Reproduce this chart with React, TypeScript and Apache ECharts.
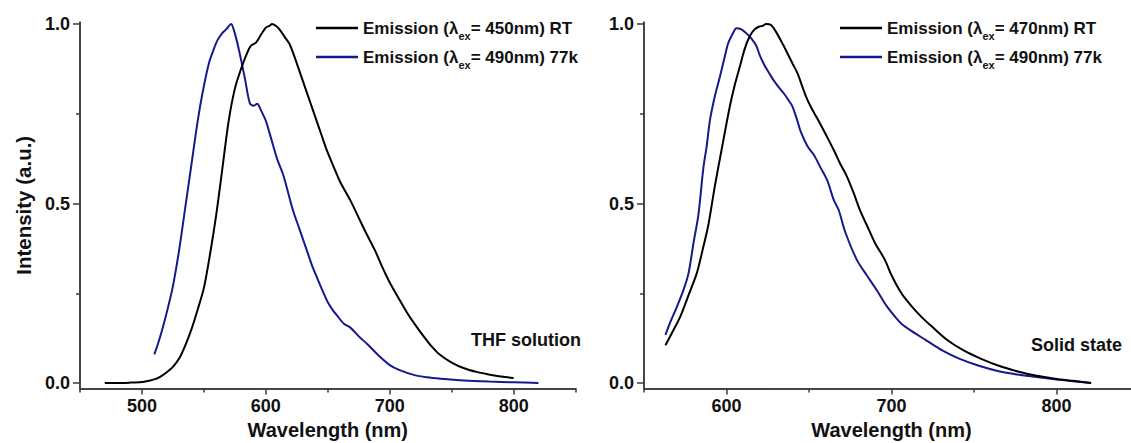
import React, { useEffect, useRef } from "react";
import * as echarts from "echarts";

// ---------- data ----------
const leftRtWl = [470, 480, 490, 500, 505, 510, 515, 520, 525, 530, 535, 540, 545, 550, 555, 560, 565, 570, 575, 580, 585, 588, 592, 596, 600, 603, 605, 608, 611, 615, 619, 623, 627, 632, 636, 640, 645, 649, 655, 660, 668, 675, 681, 688, 694, 700, 708, 715, 722, 728, 733, 740, 750, 760, 770, 780, 790, 800];
const leftRtI = [0.0, 0.0, 0.001, 0.003, 0.006, 0.01, 0.018, 0.03, 0.045, 0.068, 0.105, 0.15, 0.205, 0.265, 0.36, 0.47, 0.6, 0.73, 0.82, 0.875, 0.92, 0.94, 0.948, 0.97, 0.99, 0.995, 1.0, 0.995, 0.985, 0.965, 0.945, 0.91, 0.87, 0.82, 0.78, 0.74, 0.69, 0.65, 0.6, 0.56, 0.51, 0.46, 0.417, 0.37, 0.323, 0.28, 0.231, 0.19, 0.155, 0.127, 0.105, 0.08, 0.057, 0.041, 0.031, 0.024, 0.018, 0.014];

const left77Wl = [510, 513, 517, 521, 525, 530, 535, 540, 545, 549, 554, 558, 561, 565, 568, 572, 574, 577, 580, 583, 587, 590, 593, 596, 600, 603, 606, 609, 614, 618, 622, 627, 633, 637, 641, 646, 650, 654, 657, 663, 668, 675, 682, 690, 700, 708, 720, 730, 741, 760, 780, 800, 820];
const left77I = [0.08, 0.11, 0.157, 0.21, 0.27, 0.37, 0.49, 0.61, 0.73, 0.81, 0.89, 0.93, 0.955, 0.975, 0.985, 1.0, 0.985, 0.947, 0.9, 0.85, 0.78, 0.772, 0.778, 0.76, 0.73, 0.696, 0.66, 0.625, 0.58, 0.53, 0.48, 0.43, 0.37, 0.33, 0.296, 0.255, 0.225, 0.203, 0.19, 0.165, 0.155, 0.13, 0.108, 0.08, 0.05, 0.036, 0.022, 0.016, 0.012, 0.007, 0.004, 0.002, 0.0];

const rightRtWl = [563, 567, 572, 577, 582, 586, 589, 593, 597, 602, 605, 608, 611, 614, 617, 620, 622, 624, 627, 630, 634, 637, 640, 643, 646, 648, 651, 654, 657, 661, 665, 669, 673, 677, 681, 686, 690, 696, 700, 706, 712, 718, 725, 734, 744, 754, 765, 776, 788, 799, 810, 821];
const rightRtI = [0.105, 0.14, 0.185, 0.245, 0.306, 0.38, 0.44, 0.55, 0.649, 0.77, 0.83, 0.88, 0.93, 0.965, 0.985, 0.993, 0.995, 1.0, 0.997, 0.978, 0.945, 0.918, 0.89, 0.863, 0.825, 0.8, 0.77, 0.745, 0.72, 0.685, 0.649, 0.61, 0.575, 0.53, 0.48, 0.43, 0.39, 0.343, 0.3, 0.25, 0.215, 0.185, 0.155, 0.119, 0.09, 0.068, 0.048, 0.033, 0.02, 0.012, 0.006, 0.0];

const right77Wl = [563, 566, 570, 574, 577, 580, 583, 586, 588, 590, 593, 596, 599, 601, 604, 606, 609, 612, 615, 618, 620, 623, 626, 629, 632, 635, 638, 640, 643, 645, 649, 653, 657, 661, 665, 668, 672, 679, 685, 691, 697, 703, 706, 712, 721, 731, 741, 753, 765, 776, 788, 800, 810, 821];
const right77I = [0.134, 0.17, 0.213, 0.26, 0.306, 0.39, 0.47, 0.6, 0.66, 0.733, 0.8, 0.853, 0.91, 0.946, 0.975, 0.988, 0.985, 0.974, 0.96, 0.94, 0.915, 0.885, 0.862, 0.84, 0.822, 0.805, 0.785, 0.77, 0.73, 0.7, 0.66, 0.635, 0.6, 0.565, 0.51, 0.482, 0.42, 0.343, 0.3, 0.259, 0.215, 0.18, 0.165, 0.145, 0.119, 0.09, 0.068, 0.048, 0.033, 0.024, 0.017, 0.01, 0.005, 0.0];

const nameLeftRt = "Emission (λex= 450nm) RT";
const nameRightRt = "Emission (λex= 470nm) RT";
const name77 = "Emission (λex= 490nm) 77k";

const yLabelTicks = [0, 0.5, 1.0];
const yMinorTicks = [0.25, 0.75];
const leftXLabels = [500, 600, 700, 800];
const leftXMinor = [450, 550, 650, 750, 850];
const rightXLabels = [600, 700, 800];
const rightXMinor = [550, 650, 750, 850];

const panelNotes = ["THF solution", "Solid state"];

// ---------- style ----------
const FONT = "'Liberation Sans', Arial, sans-serif";
const AX = "#3a3a3a";
const BLUE = "#16198c";
const BLACK = "#000000";
const Y_MIN = -0.015;
const Y_MAX = 1.005;

const zip = (a: number[], b: number[]) => a.map((v, i) => [v, b[i]]);

const legendFormatter = (n: string) => {
  const idx = n.indexOf("λex");
  const pre = n.slice(0, idx);
  const post = n.slice(idx + 3);
  return `{a|${pre}λ}{s|ex}{a|${post}}`;
};

const legendRich = {
  a: { fontSize: 17, fontWeight: "bold", fontFamily: FONT, color: "#111", lineHeight: 20 },
  s: { fontSize: 11, fontWeight: "bold", fontFamily: FONT, color: "#111", lineHeight: 20, padding: [16, 0, 0, 0] },
};

const TICK_STYLE = { color: AX, width: 1.5 };

function mainXAxis(gridIndex: number, min: number, max: number, labels: number[]) {
  return {
    type: "value",
    gridIndex,
    position: "bottom",
    min,
    max,
    axisLine: { show: true, onZero: false, lineStyle: { color: AX, width: 1.5 } },
    axisTick: { show: true, customValues: labels, length: 6, lineStyle: TICK_STYLE },
    axisLabel: {
      show: true,
      customValues: labels,
      margin: 9,
      fontSize: 18,
      fontWeight: "bold",
      fontFamily: FONT,
      color: "#111",
    },
    splitLine: { show: false },
    name: "Wavelength (nm)",
    nameLocation: "middle",
    nameGap: 31,
    nameTextStyle: { fontSize: 20, fontWeight: "bold", fontFamily: FONT, color: "#111" },
  };
}

function minorXAxis(gridIndex: number, min: number, max: number, minor: number[]) {
  return {
    type: "value",
    gridIndex,
    position: "bottom",
    min,
    max,
    axisLine: { show: true, onZero: false, lineStyle: { color: AX, width: 1.5 } },
    axisTick: { show: true, customValues: minor, length: 4, lineStyle: TICK_STYLE },
    axisLabel: { show: false },
    splitLine: { show: false },
  };
}

function mainYAxis(gridIndex: number, withName: boolean) {
  return {
    type: "value",
    gridIndex,
    position: "left",
    min: Y_MIN,
    max: Y_MAX,
    axisLine: { show: true, onZero: false, lineStyle: { color: AX, width: 1.5 } },
    axisTick: { show: true, customValues: yLabelTicks, length: 7, lineStyle: TICK_STYLE },
    axisLabel: {
      show: true,
      customValues: yLabelTicks,
      margin: 10,
      fontSize: 18,
      fontWeight: "bold",
      fontFamily: FONT,
      color: "#111",
      formatter: (v: number) => v.toFixed(1),
    },
    splitLine: { show: false },
    name: withName ? "Intensity (a.u.)" : "",
    nameLocation: "middle",
    nameGap: 46,
    nameTextStyle: { fontSize: 20.5, fontWeight: "bold", fontFamily: FONT, color: "#111" },
  };
}

function minorYAxis(gridIndex: number) {
  return {
    type: "value",
    gridIndex,
    position: "left",
    min: Y_MIN,
    max: Y_MAX,
    axisLine: { show: true, onZero: false, lineStyle: { color: AX, width: 1.5 } },
    axisTick: { show: true, customValues: yMinorTicks, length: 4, lineStyle: TICK_STYLE },
    axisLabel: { show: false },
    splitLine: { show: false },
  };
}

function lineSeries(name: string, color: string, xi: number, yi: number, data: number[][]) {
  return {
    type: "line",
    name,
    xAxisIndex: xi,
    yAxisIndex: yi,
    data,
    showSymbol: false,
    symbol: "none",
    smooth: 0.3,
    lineStyle: { color, width: 2 },
    itemStyle: { color },
    z: color === BLUE ? 3 : 4,
  };
}

export default function App() {
  const ref = useRef<HTMLDivElement>(null);

  useEffect(() => {
    document.body.style.margin = "0";
    if (!ref.current) return;
    const chart = echarts.init(ref.current, undefined, { renderer: "svg" });
    const gridTop = 22.2;
    const gridH = 366.2;
    const leftBox = { left: 80, top: gridTop, width: 495.6, height: gridH, outerBoundsMode: "none", containLabel: false };
    const rightBox = { left: 644, top: gridTop, width: 495, height: gridH, outerBoundsMode: "none", containLabel: false };
    const legendBase = {
      top: 9.5,
      orient: "vertical",
      icon: "rect",
      itemWidth: 42,
      itemHeight: 2.5,
      itemGap: 2,
      selectedMode: false,
      formatter: legendFormatter,
      textStyle: { rich: legendRich },
    };
    chart.setOption({
      animation: false,
      backgroundColor: "#ffffff",
      grid: [leftBox, rightBox, { ...leftBox }, { ...rightBox }],
      xAxis: [
        mainXAxis(0, 450, 850, leftXLabels),
        mainXAxis(1, 550, 850, rightXLabels),
        minorXAxis(2, 450, 850, leftXMinor),
        minorXAxis(3, 550, 850, rightXMinor),
      ],
      yAxis: [mainYAxis(0, true), mainYAxis(1, false), minorYAxis(2), minorYAxis(3)],
      legend: [
        { ...legendBase, data: [nameLeftRt, name77], left: 311 },
        { ...legendBase, data: [nameRightRt, name77], left: 835 },
      ],
      graphic: [
        {
          type: "text",
          right: 1131 - 581,
          top: 331,
          style: { text: panelNotes[0], font: `bold 18px ${FONT}`, fill: "#111" },
        },
        {
          type: "text",
          right: 1131 - 1122,
          top: 336,
          style: { text: panelNotes[1], font: `bold 18px ${FONT}`, fill: "#111" },
        },
      ],
      series: [
        lineSeries(name77, BLUE, 0, 0, zip(left77Wl, left77I)),
        lineSeries(nameLeftRt, BLACK, 0, 0, zip(leftRtWl, leftRtI)),
        lineSeries(name77, BLUE, 1, 1, zip(right77Wl, right77I)),
        lineSeries(nameRightRt, BLACK, 1, 1, zip(rightRtWl, rightRtI)),
      ],
    });
    return () => chart.dispose();
  }, []);

  return <div ref={ref} style={{ width: 1131, height: 443 }} />;
}
